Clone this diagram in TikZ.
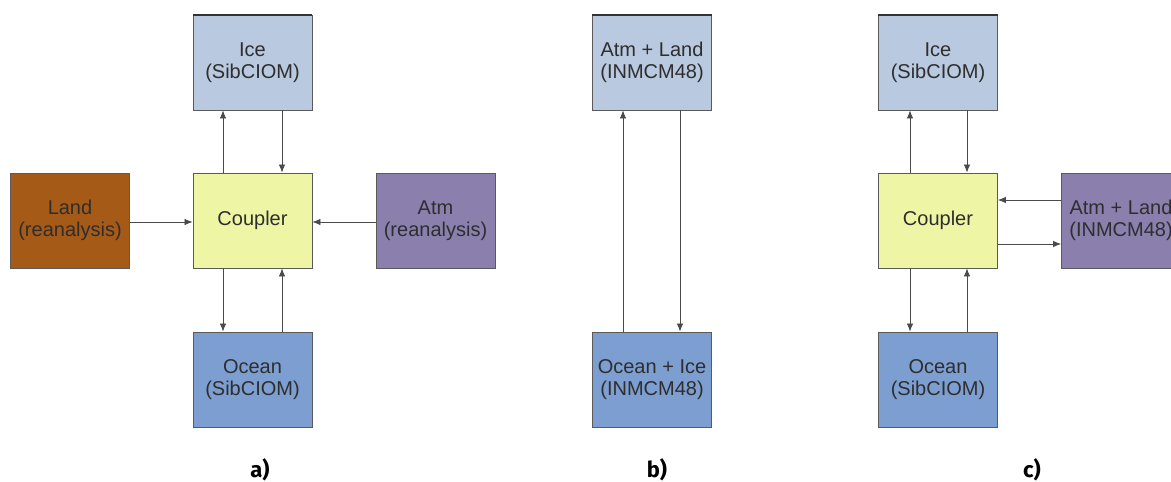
\documentclass[tikz,border=0pt]{standalone}
\usepackage{fontspec}
\setmainfont{Liberation Sans}
\newfontfamily\labelfont{Fira Sans}
\usetikzlibrary{arrows.meta}
\definecolor{iceC}{HTML}{B9C9DF}
\definecolor{cplC}{HTML}{EEF5A4}
\definecolor{landC}{HTML}{A65A17}
\definecolor{atmC}{HTML}{8B80AD}
\definecolor{oceanC}{HTML}{7D9ED0}
\definecolor{edgeC}{HTML}{5A5A5A}
\definecolor{txtC}{HTML}{2E2E2E}
\definecolor{arrC}{HTML}{4A4A4A}
\tikzset{
  box/.style={draw=edgeC, line width=0.9pt, minimum width=119pt, minimum height=95pt,
    inner sep=0pt, align=center, text=txtC,
    font=\fontsize{20pt}{22pt}\selectfont},
  flow/.style={draw=arrC, line width=0.8pt, -{Latex[length=8pt,width=6.5pt]}},
  topedge/.style={draw=black!80, line width=2pt},
  panellabel/.style={font=\labelfont\bfseries\fontsize{22pt}{24pt}\selectfont, text=black}
}
\begin{document}
\begin{tikzpicture}[x=1pt,y=1pt]
\useasboundingbox (0,0) rectangle (1171,-482);
\clip (0,0) rectangle (1171,-482);
% panel a
\node[box, fill=iceC]   (aice) at (252.5,-62.5) {Ice\\(SibCIOM)};
\node[box, fill=cplC]   (acpl) at (252.5,-220.5) {Coupler};
\node[box, fill=landC]  (aland) at (70,-220.5) {Land\\(reanalysis)};
\node[box, fill=atmC]   (aatm) at (435.5,-220.5) {Atm\\(reanalysis)};
\node[box, fill=oceanC] (aocn) at (252.5,-379.5) {Ocean\\(SibCIOM)};
\draw[topedge] (aice.north west) -- (aice.north east);
\draw[flow] ([xshift=-29.5pt]acpl.north) -- ([xshift=-29.5pt]aice.south);
\draw[flow] ([xshift=29.5pt]aice.south) -- ([xshift=29.5pt]acpl.north);
\draw[flow] ([xshift=-29.5pt]acpl.south) -- ([xshift=-29.5pt]aocn.north);
\draw[flow] ([xshift=29.5pt]aocn.north) -- ([xshift=29.5pt]acpl.south);
\draw[flow] ([yshift=-1.5pt]aland.east) -- ([yshift=-1.5pt]acpl.west);
\draw[flow] ([yshift=-1.5pt]aatm.west) -- ([yshift=-1.5pt]acpl.east);
\node[panellabel] (la) at (260,-470) {a)};
% panel b
\node[box, fill=iceC]   (batm) at (652,-62.5) {Atm + Land\\(INMCM48)};
\node[box, fill=oceanC] (bocn) at (652,-379.5) {Ocean + Ice\\(INMCM48)};
\draw[topedge] (batm.north west) -- (batm.north east);
\draw[flow] ([xshift=-29pt]bocn.north) -- ([xshift=-29pt]batm.south);
\draw[flow] ([xshift=28pt]batm.south) -- ([xshift=28pt]bocn.north);
\node[panellabel] (lb) at (657,-470) {b)};
% panel c
\node[box, fill=iceC]   (cice) at (938,-62.5) {Ice\\(SibCIOM)};
\node[box, fill=cplC]   (ccpl) at (938,-220.5) {Coupler};
\node[box, fill=oceanC] (cocn) at (938,-379.5) {Ocean\\(SibCIOM)};
\node[box, fill=atmC]   (catm) at (1121,-220.5) {Atm + Land\\(INMCM48)};
\draw[topedge] (cice.north west) -- (cice.north east);
\draw[flow] ([xshift=-28pt]ccpl.north) -- ([xshift=-28pt]cice.south);
\draw[flow] ([xshift=29pt]cice.south) -- ([xshift=29pt]ccpl.north);
\draw[flow] ([xshift=-28pt]ccpl.south) -- ([xshift=-28pt]cocn.north);
\draw[flow] ([xshift=29pt]cocn.north) -- ([xshift=29pt]ccpl.south);
\draw[flow] ([yshift=20.5pt]catm.west) -- ([yshift=20.5pt]ccpl.east);
\draw[flow] ([yshift=-23.5pt]ccpl.east) -- ([yshift=-23.5pt]catm.west);
\node[panellabel] (lc) at (1032,-470) {c)};
\end{tikzpicture}
\end{document}
